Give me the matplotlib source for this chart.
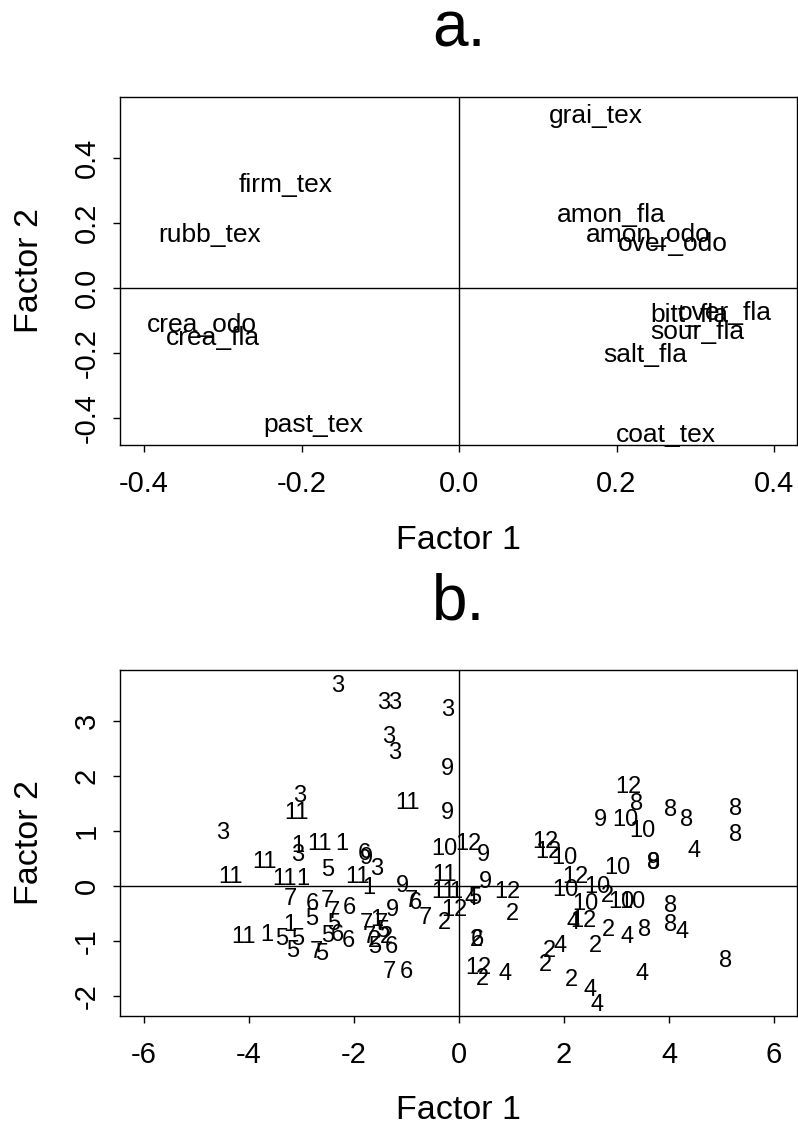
import numpy as np
import matplotlib.pyplot as plt

plt.rcParams['font.family'] = ['Liberation Sans', 'DejaVu Sans']
plt.rcParams['axes.unicode_minus'] = False

# a. attribute loadings
attr_names = ['firm_tex', 'rubb_tex', 'crea_odo', 'crea_fla', 'past_tex',
              'grai_tex', 'amon_fla', 'amon_odo', 'over_odo', 'bitt_fla',
              'over_fla', 'sour_fla', 'salt_fla', 'coat_tex']
attr_f1 = [-0.220, -0.317, -0.326, -0.312, -0.185,
           0.174, 0.193, 0.240, 0.272, 0.293,
           0.337, 0.303, 0.236, 0.263]
attr_f2 = [0.326, 0.172, -0.105, -0.145, -0.415,
           0.538, 0.231, 0.172, 0.142, -0.077,
           -0.070, -0.129, -0.197, -0.446]

# b. sample scores, labelled by cheese number
samp_lab = ['3', '3', '3', '3', '3', '3', '9', '11', '9', '3',
            '11', '3', '11', '11', '1', '3', '11', '1', '11', '1',
            '5', '6', '9', '11', '3', '1', '9', '7', '6', '7',
            '7', '6', '5', '7', '1', '7', '5', '9', '11', '1',
            '5', '1', '5', '5', '7', '5', '5', '5', '6', '6',
            '2', '7', '2', '6', '5', '7', '6', '10', '12', '9',
            '11', '11', '1', '4', '5', '9', '12', '2', '12', '2',
            '7', '6', '7', '2', '6', '12', '2', '4', '12', '12',
            '10', '10', '8', '9', '4', '12', '10', '10', '10', '2',
            '10', '10', '8', '4', '12', '2', '4', '8', '8', '4',
            '2', '4', '2', '2', '4', '2', '4', '4', '8', '12',
            '8', '9', '10', '10', '8', '8', '8', '8']
samp_f1 = [-2.32, -1.43, -1.22, -0.21, -1.35, -1.22, -0.23, -0.99, -0.23, -3.03,
           -3.10, -4.50, -4.36, -3.70, -3.07, -3.07, -2.65, -2.23, -3.33, -2.97,
           -2.51, -1.81, -1.77, -1.94, -1.56, -1.71, -1.07, -3.22, -2.80, -2.51,
           -2.40, -2.08, -2.80, -1.77, -1.56, -1.47, -1.45, -1.26, -4.10, -3.66,
           -3.37, -3.22, -3.07, -3.16, -2.72, -2.61, -2.38, -2.51, -2.32, -2.11,
           -1.39, -1.70, -1.62, -1.28, -1.60, -1.33, -1.01, -0.27, 0.17, 0.46,
           -0.27, -0.30, -0.06, 0.23, 0.30, 0.50, 0.93, 1.01, -0.08, -0.27,
           -0.91, -0.84, -0.65, 0.34, 0.34, 0.36, 0.44, 0.88, 1.64, 1.71,
           2.00, 3.01, 3.70, 3.70, 4.48, 2.21, 2.02, 2.63, 2.40, 2.82,
           3.10, 3.30, 4.02, 2.17, 2.36, 2.84, 3.20, 3.54, 4.02, 4.25,
           2.59, 1.92, 1.73, 1.64, 3.49, 2.15, 2.50, 2.63, 5.07, 3.22,
           3.39, 2.69, 3.16, 3.50, 4.02, 4.34, 5.26, 5.26]
samp_f2 = [3.69, 3.38, 3.38, 3.24, 2.75, 2.47, 2.18, 1.55, 1.38, 1.69,
           1.38, 1.00, 0.20, 0.49, 0.78, 0.60, 0.80, 0.80, 0.18, 0.18,
           0.33, 0.62, 0.56, 0.20, 0.35, 0.00, 0.04, -0.20, -0.29, -0.22,
           -0.42, -0.35, -0.56, -0.64, -0.58, -0.65, -0.78, -0.40, -0.89, -0.85,
           -0.91, -0.67, -0.91, -1.13, -1.16, -1.20, -0.65, -0.87, -0.85, -0.96,
           -0.89, -0.89, -0.95, -1.07, -1.07, -1.51, -1.51, 0.71, 0.80, 0.60,
           0.25, -0.07, -0.07, -0.20, -0.18, 0.11, -0.07, -0.47, -0.40, -0.62,
           -0.22, -0.27, -0.53, -0.93, -0.93, -1.45, -1.65, -1.55, 0.84, 0.67,
           0.55, 0.38, 0.47, 0.47, 0.69, 0.20, -0.02, 0.02, -0.29, -0.13,
           -0.25, -0.25, -0.31, -0.62, -0.60, -0.75, -0.89, -0.75, -0.67, -0.80,
           -1.04, -1.04, -1.13, -1.40, -1.56, -1.67, -1.84, -2.11, -1.31, 1.84,
           1.53, 1.25, 1.25, 1.05, 1.42, 1.24, 1.44, 0.98]

fig = plt.figure(figsize=(7.98, 11.26), dpi=100)
ax1 = fig.add_axes([0.1504, 0.6048, 0.8484, 0.3091])
ax2 = fig.add_axes([0.1504, 0.0977, 0.8484, 0.3073])


def style(ax, title, xlim, ylim, xt, xtl, yt, ytl):
    ax.set_xlim(xlim)
    ax.set_ylim(ylim)
    ax.axhline(0, color='black', lw=1.0)
    ax.axvline(0, color='black', lw=1.0)
    for s in ax.spines.values():
        s.set_linewidth(1.0)
    ax.set_xticks(xt)
    ax.set_xticklabels(xtl)
    ax.set_yticks(yt)
    ax.set_yticklabels(ytl, rotation=90, va='center', ha='right')
    ax.tick_params(axis='both', direction='out', length=5, width=1.0,
                   labelsize=21)
    ax.tick_params(axis='x', pad=13)
    ax.tick_params(axis='y', pad=9)
    ax.set_xlabel('Factor 1', fontsize=24.5, va='center')
    ax.xaxis.set_label_coords(0.5, -0.273)
    ax.set_ylabel('Factor 2', fontsize=24.5, va='center')
    ax.yaxis.set_label_coords(-0.133, 0.5)
    ax.set_title(title, fontsize=46, pad=36)


style(ax1, 'a.', (-0.4305, 0.4292), (-0.4831, 0.5877),
      [-0.4, -0.2, 0.0, 0.2, 0.4], ['-0.4', '-0.2', '0.0', '0.2', '0.4'],
      [-0.4, -0.2, 0.0, 0.2, 0.4], ['-0.4', '-0.2', '0.0', '0.2', '0.4'])
for name, x, y in zip(attr_names, attr_f1, attr_f2):
    ax1.text(x, y, name, fontsize=19, ha='center', va='center_baseline')

style(ax2, 'b.', (-6.457, 6.438), (-2.364, 3.927),
      [-6, -4, -2, 0, 2, 4, 6], ['-6', '-4', '-2', '0', '2', '4', '6'],
      [-2, -1, 0, 1, 2, 3], ['-2', '-1', '0', '1', '2', '3'])
for lab, x, y in zip(samp_lab, samp_f1, samp_f2):
    ax2.text(x, y, lab, fontsize=17, ha='center', va='center_baseline')

fig.savefig('out.png', dpi=100)
